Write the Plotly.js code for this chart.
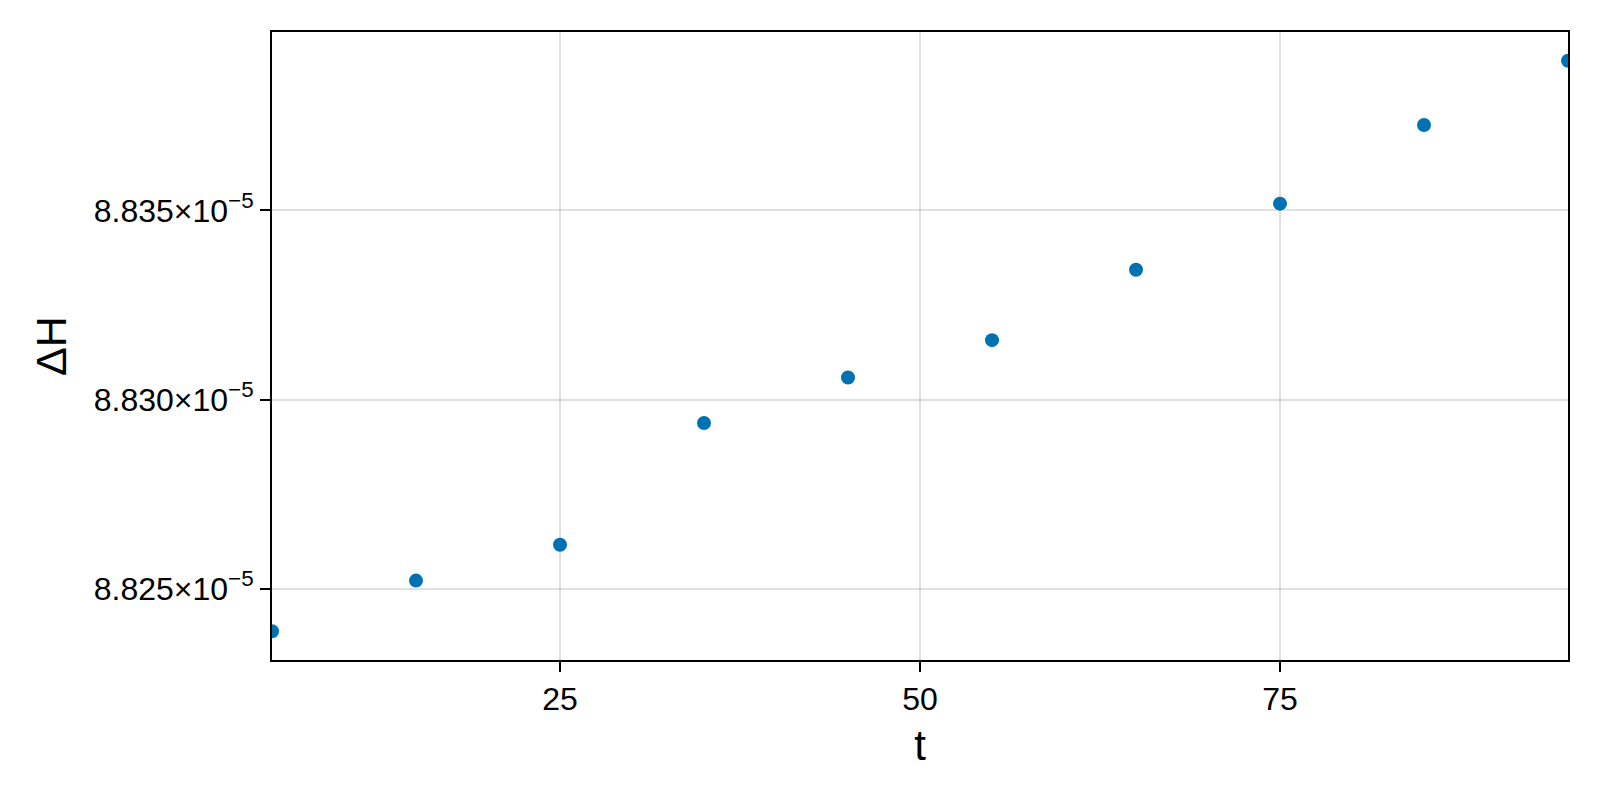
<!DOCTYPE html>
<html>
<head>
<meta charset="utf-8">
<script src="https://cdn.plot.ly/plotly-3.0.1.min.js"></script>
<style>html,body{margin:0;padding:0;background:#fff;}#chart{width:1600px;height:800px;}</style>
</head>
<body>
<div id="chart"></div>
<script>
const tValues = [5, 15, 25, 35, 45, 55, 65, 75, 85, 95];
const deltaH = [8.82387e-5, 8.82521e-5, 8.82616e-5, 8.82938e-5, 8.83058e-5, 8.83157e-5, 8.83343e-5, 8.83518e-5, 8.83726e-5, 8.83896e-5];
const xTickVals = [25, 50, 75];
const yTickVals = [8.825e-5, 8.830e-5, 8.835e-5];
const yTickText = ['8.825×10<sup>−5</sup>', '8.830×10<sup>−5</sup>', '8.835×10<sup>−5</sup>'];

const fontFam = '"Liberation Sans", Arial, sans-serif';

const trace = {
  x: tValues,
  y: deltaH,
  type: 'scatter',
  mode: 'markers',
  marker: {color: 'rgb(0,114,178)', size: 14},
  cliponaxis: true,
  hoverinfo: 'x+y'
};

const layout = {
  width: 1600,
  height: 800,
  margin: {l: 272, r: 32, t: 32, b: 140},
  paper_bgcolor: '#ffffff',
  plot_bgcolor: '#ffffff',
  showlegend: false,
  font: {family: fontFam, color: '#000', size: 32},
  xaxis: {
    range: [5, 95],
    tickvals: xTickVals,
    ticktext: xTickVals.map(String),
    showgrid: true,
    gridcolor: 'rgba(0,0,0,0.12)',
    gridwidth: 2,
    zeroline: false,
    showline: true,
    linecolor: '#000',
    linewidth: 2,
    mirror: true,
    ticks: 'outside',
    ticklen: 10,
    tickwidth: 2,
    tickcolor: '#000',
    tickfont: {family: fontFam, size: 32, color: '#000'},
    title: {text: 't', font: {family: fontFam, size: 42, color: '#000'}, standoff: 14}
  },
  yaxis: {
    range: [8.82311e-5, 8.83972e-5],
    tickvals: yTickVals,
    ticktext: yTickText,
    showgrid: true,
    gridcolor: 'rgba(0,0,0,0.12)',
    gridwidth: 2,
    zeroline: false,
    showline: true,
    linecolor: '#000',
    linewidth: 2,
    mirror: true,
    ticks: 'outside',
    ticklen: 10,
    tickwidth: 2,
    tickcolor: '#000',
    tickfont: {family: fontFam, size: 32, color: '#000'},
    title: {text: 'ΔH', font: {family: fontFam, size: 43, color: '#000'}, standoff: 14}
  }
};

Plotly.newPlot('chart', [trace], layout, {displayModeBar: false, staticPlot: true});
</script>
</body>
</html>
